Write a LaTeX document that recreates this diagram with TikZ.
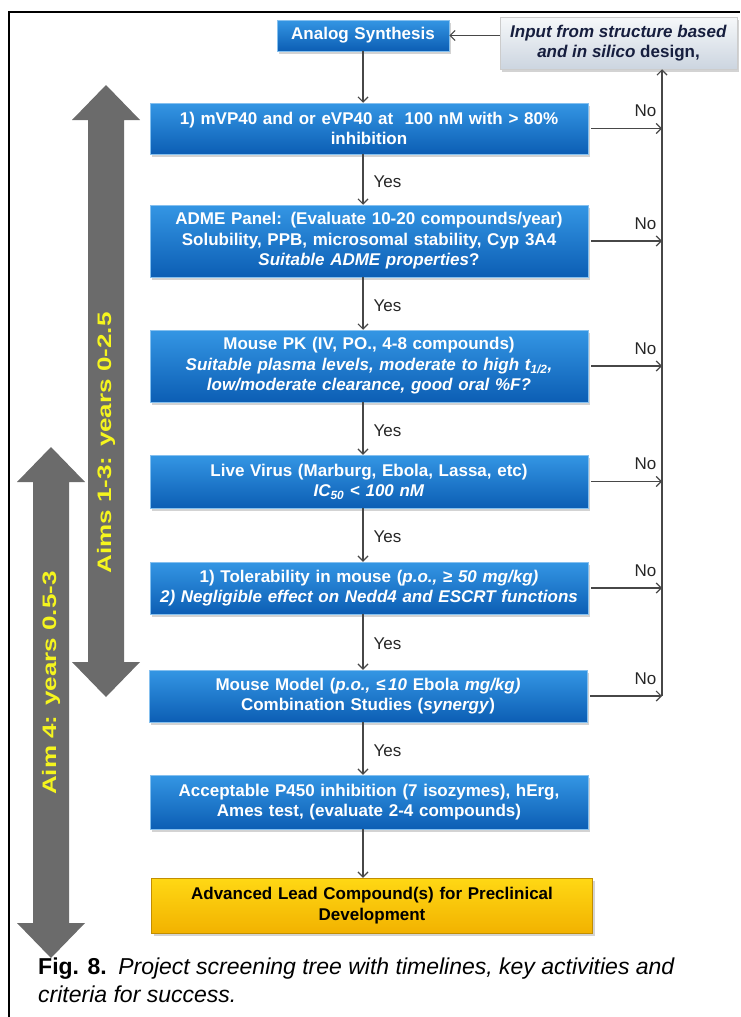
\documentclass[tikz,border=0pt]{standalone}
\usepackage{fontspec}
\setmainfont{Liberation Sans}
\usetikzlibrary{arrows.meta,shadows}
\definecolor{stageTop}{RGB}{52,150,228}
\definecolor{stageMid}{RGB}{22,116,206}
\definecolor{stageBottom}{RGB}{12,94,180}
\definecolor{leadTop}{RGB}{255,216,20}
\definecolor{leadBottom}{RGB}{242,178,0}
\definecolor{inputTop}{RGB}{246,248,250}
\definecolor{inputBottom}{RGB}{204,213,224}
\definecolor{inputText}{RGB}{22,30,62}
\definecolor{barText}{RGB}{245,245,30}
\colorlet{flowLine}{black!72}
\colorlet{barEdge}{black!58}
\colorlet{barMid}{black!36}
\newcommand{\stagefont}{\fontsize{17}{20.5}\selectfont\bfseries}
\tikzstyle{boxShadow}=[drop shadow={shadow xshift=2pt,shadow yshift=-3pt,opacity=.35}]
\tikzstyle{stage}=[rectangle,boxShadow,top color=stageTop,middle color=stageMid,bottom color=stageBottom,draw=stageTop!60!white,line width=.5pt,text=white,font=\stagefont,align=center,inner sep=2pt,minimum width=438pt,text width=434pt]
\tikzstyle{synthBox}=[stage,minimum width=172pt,text width=166pt,minimum height=31pt]
\tikzstyle{leadBox}=[stage,top color=leadTop,middle color=leadTop!50!leadBottom,bottom color=leadBottom,draw=leadBottom!80!black,text=black,minimum width=441pt]
\tikzstyle{inputBox}=[rectangle,boxShadow,top color=inputTop,bottom color=inputBottom,draw=black!20,line width=.5pt,text=inputText,font=\stagefont,align=center,minimum width=237pt,minimum height=52pt,inner sep=2pt]
\tikzstyle{flow}=[draw=flowLine,line width=1.2pt,-{Straight Barb[length=5pt,width=10pt]}]
\tikzstyle{yesLabel}=[anchor=west,xshift=8pt,yshift=-2pt,inner sep=2pt,font=\fontsize{17}{20}\selectfont,text=black!85]
\tikzstyle{noLabel}=[pos=1,anchor=south east,xshift=-3pt,yshift=9pt,inner sep=2pt,font=\fontsize{17}{20}\selectfont,text=black!85]
\tikzstyle{barLabel}=[rotate=90,text=barText,font=\fontsize{26}{28}\selectfont\bfseries,inner sep=0pt]

\begin{document}
\begin{tikzpicture}[x=1pt,y=-1pt]
\useasboundingbox (0,0) rectangle (740,1017);
\draw[line width=1.5pt] (9,1017) -- (9,12) -- (740,12);
        \foreach \barx/\bartop/\barbot/\laby/\labtxt in {106/85/697/443/{Aims 1-3: years 0-2.5},51/447/958/683/{Aim 4: years 0.5-3}} {
                \shade[left color=barEdge,middle color=barMid,right color=barEdge]
                (\barx,\bartop) -- ({\barx+34},{\bartop+35}) -- ({\barx+18},{\bartop+35})
                -- ({\barx+18},{\barbot-35}) -- ({\barx+34},{\barbot-35}) -- (\barx,\barbot)
                -- ({\barx-34},{\barbot-35}) -- ({\barx-18},{\barbot-35})
                -- ({\barx-18},{\bartop+35}) -- ({\barx-34},{\bartop+35}) -- cycle;
                \node[barLabel] (aim\barx)
                at (\barx,\laby)
                {\scalebox{1}[.75]{\labtxt}};
		}
        \node[synthBox] (synth)
        at (363,35.5)
        {Analog Synthesis};
        \node[inputBox] (input)
        at (618.5,43)
        {\textit{Input from structure based}\\\textit{and in silico} design,};
        \node[stage,minimum height=51pt] (mvp)
        at (369,128.5)
        {1) mVP40 and or eVP40 at\ \ 100 nM with > 80\%\\inhibition};
        \node[stage,minimum height=72pt] (adme)
        at (369,241)
        {ADME Panel: (Evaluate 10-20 compounds/year)\\Solubility, PPB, microsomal stability, Cyp 3A4\\\textit{Suitable ADME properties}?};
        \node[stage,minimum height=72pt] (pk)
        at (369,366)
        {Mouse PK (IV, PO., 4-8 compounds)\\\textit{Suitable plasma levels, moderate to high t\textsubscript{1/2},}\\\textit{low/moderate clearance, good oral \%F?}};
        \node[stage,minimum height=53pt] (virus)
        at (369,481.5)
        {Live Virus (Marburg, Ebola, Lassa, etc)\\\textit{IC\textsubscript{50} < 100 nM}};
        \node[stage,minimum height=52pt] (toler)
        at (369,588)
        {1) Tolerability in mouse (\textit{p.o.,} ≥ \textit{50 mg/kg)}\\\textit{2) Negligible effect on Nedd4 and ESCRT functions}};
        \node[stage,minimum height=52pt] (model)
        at (368,696)
        {Mouse Model (\textit{p.o., ≤\,10} Ebola \textit{mg/kg)}\\Combination Studies (\textit{synergy})};
        \node[stage,minimum height=54pt] (p450)
        at (369,802)
        {Acceptable P450 inhibition (7 isozymes), hErg,\\Ames test, (evaluate 2-4 compounds)};
        \node[leadBox,minimum height=55pt] (lead)
        at (372,905.5)
        {Advanced Lead Compound(s) for Preclinical\\Development};
\coordinate (spine) at (363,0);
\coordinate (rail) at (662,0);
\draw[flow] (input.west |- synth.east) -- (synth.east);
\draw[flow] (synth.south) -- (synth.south |- mvp.north);
\draw[flow] (mvp.south -| spine) -- node[yesLabel] (yesA) {Yes} (adme.north -| spine);
\draw[flow] (adme.south -| spine) -- node[yesLabel] (yesB) {Yes} (pk.north -| spine);
\draw[flow] (pk.south -| spine) -- node[yesLabel] (yesC) {Yes} (virus.north -| spine);
\draw[flow] (virus.south -| spine) -- node[yesLabel] (yesD) {Yes} (toler.north -| spine);
\draw[flow] (toler.south -| spine) -- node[yesLabel] (yesE) {Yes} (model.north -| spine);
\draw[flow] (model.south -| spine) -- node[yesLabel] (yesF) {Yes} (p450.north -| spine);
\draw[flow] (p450.south -| spine) -- (lead.north -| spine);
        \foreach \stg in {mvp,adme,pk,virus,toler,model} {
                \draw[flow] ([xshift=3pt]\stg.east) -- node[noLabel] (no\stg) {No} (\stg.east -| rail);
		}
\draw[flow] (model.east -| rail) -- (input.south -| rail);
        \node[anchor=north west,align=left,inner sep=0pt,font=\fontsize{23}{28}\selectfont] (caption)
        at (38,958)
        {\textbf{Fig. 8.}\enspace\textit{Project screening tree with timelines, key activities and}\\\textit{criteria for success.}};
\end{tikzpicture}
\end{document}
